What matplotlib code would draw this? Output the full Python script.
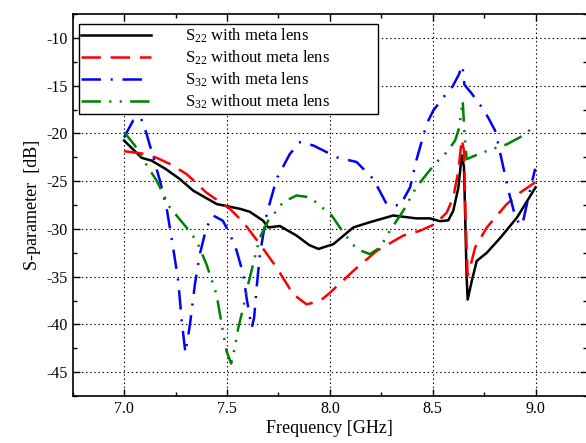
import numpy as np
import matplotlib
matplotlib.use("Agg")
import matplotlib.pyplot as plt
from matplotlib.ticker import MultipleLocator

plt.rcParams['font.family'] = ['Liberation Serif', 'DejaVu Serif']
plt.rcParams['mathtext.fontset'] = 'custom'
plt.rcParams['mathtext.rm'] = 'Liberation Serif'
plt.rcParams['mathtext.it'] = 'Liberation Serif:italic'
plt.rcParams['lines.scale_dashes'] = False
plt.rcParams['axes.unicode_minus'] = False

# S22 with meta lens
f_s22_with = [7.0, 7.085, 7.133, 7.2, 7.27, 7.336, 7.45, 7.563, 7.61, 7.676, 7.70,
              7.757, 7.838, 7.90, 7.945, 8.017, 8.114, 8.195, 8.308, 8.42, 8.487,
              8.535, 8.576, 8.60, 8.625, 8.641, 8.652, 8.665, 8.67, 8.69, 8.714,
              8.763, 8.83, 8.91, 9.0]
s22_with = [-20.75, -22.56, -22.85, -23.7, -24.77, -26.0, -27.4, -27.9, -28.2, -29.15,
            -29.85, -29.7, -30.7, -31.7, -32.1, -31.6, -29.85, -29.3, -28.6, -28.9,
            -28.9, -29.2, -29.1, -28.1, -25.65, -22.3, -23.5, -35.1, -37.4, -35.45,
            -33.35, -32.5, -30.9, -28.8, -25.65]

# S22 without meta lens
f_s22_without = [7.0, 7.085, 7.158, 7.222, 7.303, 7.40, 7.514, 7.579, 7.66, 7.741,
                 7.822, 7.887, 7.952, 8.0, 8.114, 8.228, 8.357, 8.438, 8.511, 8.568,
                 8.60, 8.625, 8.641, 8.652, 8.66, 8.67, 8.69, 8.706, 8.763, 8.86,
                 8.925, 9.0]
s22_without = [-21.87, -22.1, -22.56, -23.2, -24.25, -26.2, -27.9, -29.3, -31.6, -34.05,
               -36.85, -37.9, -37.55, -36.7, -34.4, -32.3, -30.7, -30.2, -29.5, -28.3,
               -26.7, -23.9, -20.6, -21.8, -29.15, -34.9, -33.35, -31.95, -29.85, -27.4,
               -26.2, -25.1]

# S32 with meta lens
f_s32_with = [7.0, 7.044, 7.08, 7.109, 7.174, 7.206, 7.238, 7.263, 7.28, 7.298, 7.32,
              7.344, 7.368, 7.40, 7.433, 7.48, 7.514, 7.547, 7.579, 7.595, 7.62, 7.632,
              7.644, 7.66, 7.693, 7.741, 7.806, 7.855, 7.92, 7.985, 8.033, 8.13, 8.211,
              8.276, 8.341, 8.39, 8.42, 8.471, 8.503, 8.56, 8.597, 8.628, 8.641, 8.649,
              8.654, 8.69, 8.738, 8.77, 8.803, 8.822, 8.836, 8.868, 8.90, 8.925, 8.94,
              8.965, 8.998]
s32_with = [-20.4, -18.65, -18.3, -20.04, -24.95, -27.75, -31.95, -35.45, -39.65, -43.0,
            -40.0, -35.8, -32.65, -29.85, -28.6, -29.15, -30.55, -32.3, -34.75, -37.2,
            -40.35, -39.3, -36.15, -32.65, -28.45, -24.77, -22.14, -20.92, -21.27, -21.97,
            -22.5, -23.0, -24.77, -27.4, -27.57, -25.65, -22.85, -19.0, -17.6, -16.0,
            -15.07, -13.8, -12.87, -13.57, -14.9, -15.84, -17.25, -18.36, -19.7, -21.45,
            -22.85, -26.0, -28.6, -29.67, -29.15, -26.7, -23.7]

# S32 without meta lens
f_s32_without = [7.0, 7.052, 7.085, 7.158, 7.222, 7.303, 7.352, 7.40, 7.449, 7.48, 7.498,
                 7.52, 7.538, 7.555, 7.579, 7.603, 7.627, 7.66, 7.70, 7.733, 7.773, 7.838,
                 7.903, 7.952, 8.009, 8.066, 8.13, 8.195, 8.244, 8.292, 8.357, 8.42, 8.471,
                 8.511, 8.568, 8.609, 8.628, 8.637, 8.646, 8.654, 8.665, 8.73, 8.795, 8.86,
                 8.925, 9.0]
s32_without = [-19.87, -21.27, -22.5, -24.95, -27.75, -29.85, -31.25, -33.7, -36.85, -40.7,
               -42.8, -44.1, -42.45, -40.35, -38.25, -35.8, -33.7, -30.9, -29.15, -28.3,
               -27.2, -26.5, -26.7, -27.57, -28.6, -30.4, -32.1, -32.65, -31.95, -30.2,
               -28.1, -25.65, -24.25, -23.2, -21.97, -20.75, -19.45, -18.1, -16.6, -19.9,
               -22.7, -22.1, -21.6, -21.15, -20.4, -19.2]

labels = ['S$_{22}$ with meta lens', 'S$_{22}$ without meta lens',
          'S$_{32}$ with meta lens', 'S$_{32}$ without meta lens']

fig = plt.figure(figsize=(5.86, 4.43), dpi=100)
ax = fig.add_axes([72.7 / 586, 1 - 396 / 443, (587 - 72.7) / 586, (396 - 14) / 443])

ax.plot(f_s22_with, s22_with, color='black', lw=1.8, label=labels[0])
ax.plot(f_s22_without, s22_without, color='#ff0000', lw=1.8,
        linestyle=(0, (14, 7)), label=labels[1])
ax.plot(f_s32_with, s32_with, color='#0000ff', lw=1.8,
        linestyle=(0, (14, 7, 1.5, 7)), label=labels[2])
ax.plot(f_s32_without, s32_without, color='#008000', lw=1.8,
        linestyle=(0, (14, 6, 1.5, 6, 1.5, 6)), label=labels[3])

ax.set_xlim(6.75, 9.25)
ax.set_ylim(-47.5, -7.5)
ax.xaxis.set_major_locator(MultipleLocator(0.5))
ax.xaxis.set_minor_locator(MultipleLocator(0.25))
ax.yaxis.set_major_locator(MultipleLocator(5))
ax.yaxis.set_minor_locator(MultipleLocator(2.5))
ax.xaxis.set_major_formatter(matplotlib.ticker.FormatStrFormatter('%.1f'))
ax.tick_params(which='both', direction='in', top=True, right=True, labelsize=11.5)
ax.tick_params(which='major', length=5, width=1)
ax.tick_params(which='minor', length=3, width=1)
ax.grid(True, which='major', color='black', linestyle=(0, (1, 2)), lw=0.8)
for sp in ax.spines.values():
    sp.set_linewidth(1.2)

ax.set_xlabel('Frequency [GHz]', fontsize=13, labelpad=2)
ax.set_ylabel('S-parameter  [dB]', fontsize=13)

leg = ax.legend(loc='upper left', bbox_to_anchor=(0.012, 0.70, 0.581, 0.274),
                mode='expand', fontsize=12, handlelength=4.2, handletextpad=2.0,
                labelspacing=0.22, borderpad=0.15, fancybox=False, framealpha=1,
                edgecolor='black', borderaxespad=0)
leg.get_frame().set_linewidth(1.0)

fig.savefig('out.png', dpi=100)
